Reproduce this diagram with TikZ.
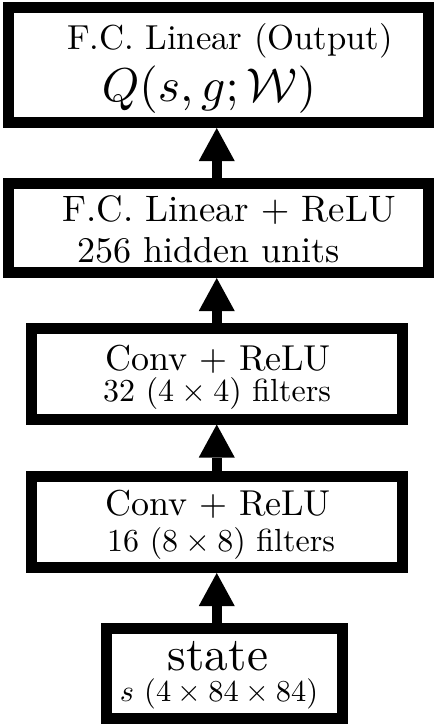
\documentclass[tikz,border=0pt]{standalone}
\usetikzlibrary{arrows.meta}
\tikzset{
  layerbox/.style={draw=black, line width=11pt, fill=white, inner sep=0pt},
  flow/.style={draw=black, line width=10pt, -{Triangle[width=36pt,length=33pt,line width=0pt]}},
  lbl/.style={anchor=base, inner sep=0pt, outer sep=0pt}
}
\newcommand{\tx}[2]{\scalebox{#1}{\fontsize{10}{12}\selectfont #2}}
\begin{document}
\begin{tikzpicture}[x=1pt,y=-1pt]
\useasboundingbox (0,0) rectangle (435,724);
% boxes
\node[layerbox, minimum width=420pt, minimum height=115pt] (b1) at (218,65) {};
\node[layerbox, minimum width=420pt, minimum height=89pt] (b2) at (218,228) {};
\node[layerbox, minimum width=370.5pt, minimum height=90.5pt] (b3) at (216.75,373.75) {};
\node[layerbox, minimum width=370.5pt, minimum height=91pt] (b4) at (216.75,522) {};
\node[layerbox, minimum width=236pt, minimum height=89.5pt] (b5) at (224.5,673.25) {};
% labels
\node[lbl] (t1a) at (230,49) {\tx{3.47}{F.C. Linear (Output)}};
\node[lbl] (t1b) at (209,101) {\tx{4.75}{$Q(s,g;\mathcal{W})$}};
\node[lbl] (t2a) at (229,221) {\tx{3.68}{F.C. Linear $+$ ReLU}};
\node[lbl] (t2b) at (208.5,262) {\tx{3.61}{256 hidden units}};
\node[lbl] (t3a) at (218,370) {\tx{3.6}{Conv $+$ ReLU}};
\node[lbl] (t3b) at (217,401) {\tx{3.2}{32 $(4\times 4)$ filters}};
\node[lbl] (t4a) at (218,515) {\tx{3.6}{Conv $+$ ReLU}};
\node[lbl] (t4b) at (221,551) {\tx{3.2}{16 $(8\times 8)$ filters}};
\node[lbl] (t5a) at (218,670) {\tx{4.73}{state}};
\node[lbl] (t5b) at (219,701) {\tx{3.04}{$s$ $(4\times 84\times 84)$}};
% connectors
\draw[flow] (b5.north -| b4.south) -- (b4.south);
\draw[flow] (b4.north) -- (b3.south);
\draw[flow] (b3.north) -- (b3.north |- b2.south);
\draw[flow] (b2.north -| b3.north) -- (b1.south -| b3.north);
\end{tikzpicture}
\end{document}
